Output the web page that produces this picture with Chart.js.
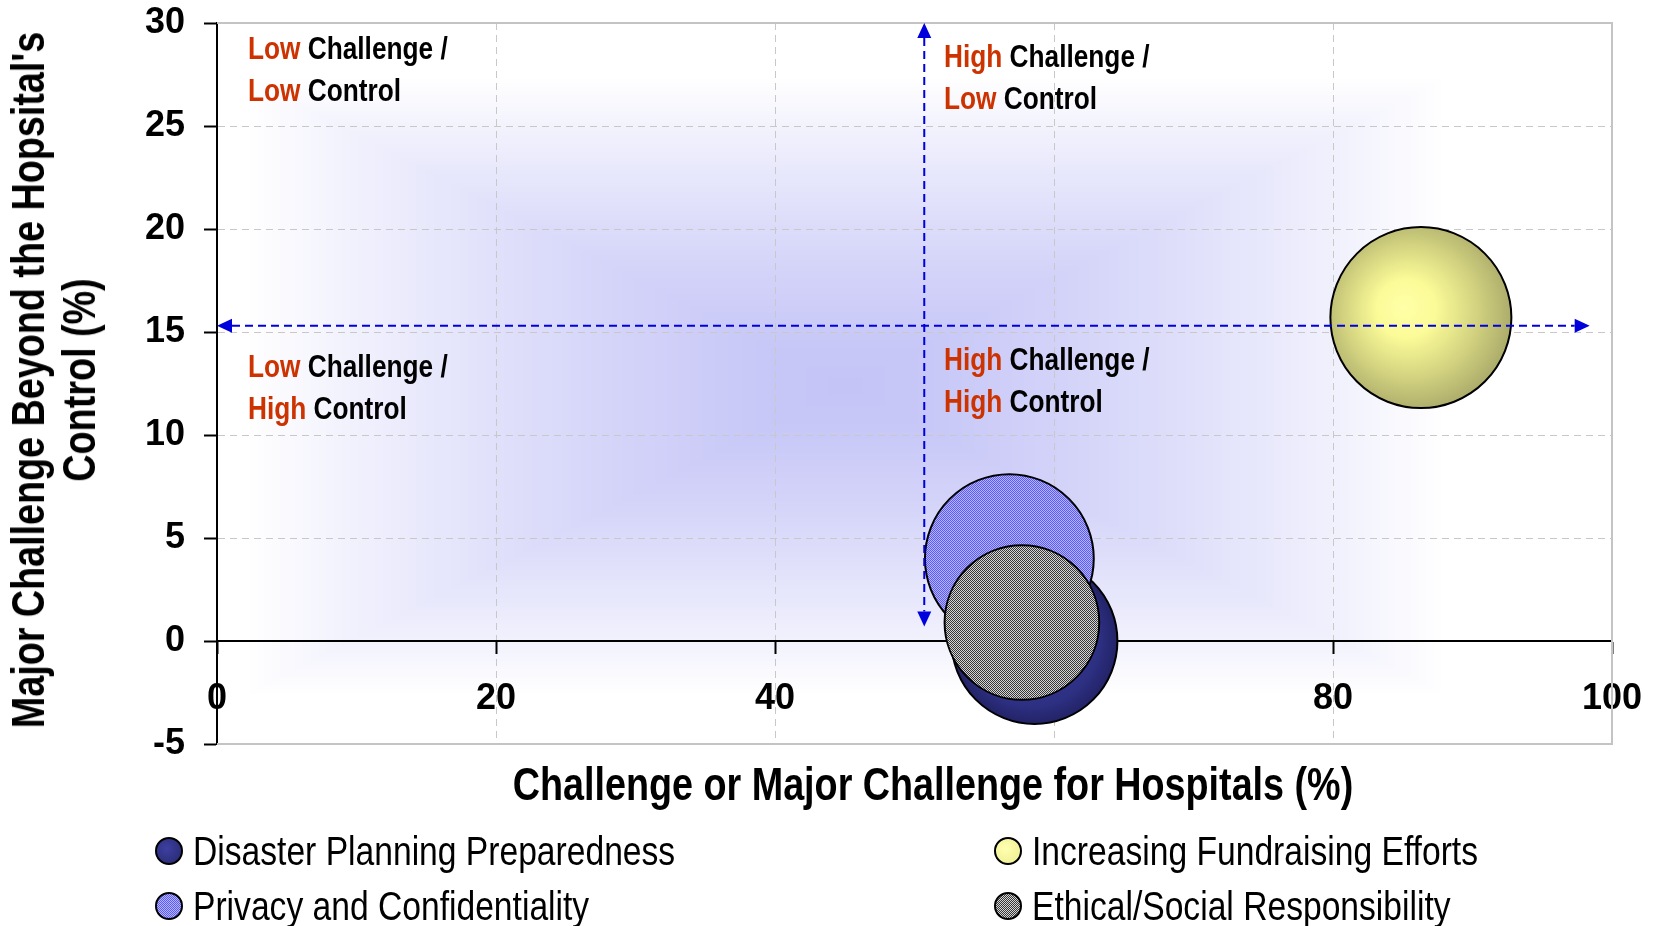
<!DOCTYPE html>
<html>
<head>
<meta charset="utf-8">
<script src="https://cdn.jsdelivr.net/npm/chart.js@4.4.0/dist/chart.umd.min.js"></script>
<style>
body { margin: 0; background: #fff; }
#wrap { position: relative; width: 1657px; height: 926px; overflow: hidden; }
#myChart { position: absolute; left: 0; top: 0; }
.narrow { font-family: "Liberation Sans", Arial, sans-serif; }
.abs { position: absolute; white-space: nowrap; }
.axis-title { font-weight: bold; font-size: 46px; color: #000; }
#xTitle { left: 933px; top: 784px; transform: translate(-50%, -50%) scaleX(0.82); }
#yTitle { left: 54px; top: 380px; transform: translate(-50%, -50%) rotate(-90deg) scaleX(0.82); text-align: center; line-height: 51px; }
.quad { font-weight: bold; font-size: 32px; line-height: 42px; color: #000; transform-origin: 0 0; transform: scaleX(0.82); }
.quad b { color: #cc3300; }
.leg { font-size: 41px; line-height: 46px; color: #000; transform-origin: 0 50%; transform: translateY(-50%) scaleX(0.82); }
.mk { position: absolute; width: 24px; height: 24px; border: 2px solid #000; border-radius: 50%; transform: translate(-50%, -50%); }
</style>
</head>
<body>
<div id="wrap">
  <canvas id="myChart" width="1657" height="926"></canvas>
  <div id="xTitle" class="abs narrow axis-title">Challenge or Major Challenge for Hospitals (%)</div>
  <div id="yTitle" class="abs narrow axis-title">Major Challenge Beyond the Hopsital's<br>Control (%)</div>
  <div class="abs narrow quad" style="left:248px;top:27px"><b>Low</b> Challenge /<br><b>Low</b> Control</div>
  <div class="abs narrow quad" style="left:944px;top:35px"><b>High</b> Challenge /<br><b>Low</b> Control</div>
  <div class="abs narrow quad" style="left:248px;top:345px"><b>Low</b> Challenge /<br><b>High</b> Control</div>
  <div class="abs narrow quad" style="left:944px;top:338px"><b>High</b> Challenge /<br><b>High</b> Control</div>
  <div id="legend"></div>
</div>
<script>
// dados do gráfico
var series = ['Disaster Planning Preparedness', 'Increasing Fundraising Efforts', 'Privacy and Confidentiality', 'Ethical/Social Responsibility']
var challengePct = [58.6, 86.3, 56.8, 57.7]
var beyondControlPct = [0.0, 15.7, 4.0, 0.9]
var bubbleSize = [84, 100, 87, 73]
var xTickValues = [0, 20, 40, 60, 80, 100]
var yTickValues = [-5, 0, 5, 10, 15, 20, 25, 30]
var xDivider = 50.7
var yDivider = 15.3

var canvas = document.getElementById('myChart')
var ctx = canvas.getContext('2d')

function makePattern(c1, c2) {
    var p = document.createElement('canvas')
    p.width = 2; p.height = 2
    var g = p.getContext('2d')
    g.fillStyle = c1; g.fillRect(0, 0, 2, 2)
    g.fillStyle = c2; g.fillRect(0, 0, 1, 1); g.fillRect(1, 1, 1, 1)
    return ctx.createPattern(p, 'repeat')
}
var bluePattern = makePattern('#b4b4ff', '#5c5cf4')
var grayPattern = makePattern('#d4d4d4', '#383838')

function bubbleR(i) { return 90.5 * Math.sqrt(bubbleSize[i] / 100) }

function bubbleFill(c) {
    var i = c.datasetIndex
    if (i === 2) return bluePattern
    if (i === 3) return grayPattern
    var chart = c.chart
    var xs = chart.scales.x, ys = chart.scales.y
    if (!xs || !ys || !chart.chartArea) return i === 1 ? '#ffff99' : '#333399'
    var cx = xs.getPixelForValue(challengePct[i])
    var cy = ys.getPixelForValue(beyondControlPct[i])
    var r = bubbleR(i)
    var g
    if (i === 1) {
        g = ctx.createRadialGradient(cx - r * 0.2, cy - r * 0.12, 0, cx - r * 0.08, cy - r * 0.05, r * 1.08)
        g.addColorStop(0, '#ffffa8')
        g.addColorStop(0.3, '#fbfb98')
        g.addColorStop(0.65, '#d6d682')
        g.addColorStop(1, '#adad6c')
    } else {
        g = ctx.createRadialGradient(cx - r * 0.15, cy - r * 0.15, 0, cx, cy, r)
        g.addColorStop(0, '#3a3c9a')
        g.addColorStop(0.8, '#2e3084')
        g.addColorStop(1, '#222366')
    }
    return g
}

var datasets = series.map(function (name, i) {
    return {
        label: name,
        data: [{ x: challengePct[i], y: beyondControlPct[i], r: bubbleR(i) }],
        backgroundColor: bubbleFill,
        borderColor: '#000',
        borderWidth: 2,
        order: 4 - i
    }
})

// fundo com degradê retangular a partir do centro
var bgCenter = [45, 12.4]
var bgHalf = [43, 15]
var bgInner = [196, 196, 247]

var plotDeco = {
    id: 'plotDeco',
    beforeDraw: function (chart) {
        var c = chart.ctx, a = chart.chartArea, x = chart.scales.x, y = chart.scales.y
        c.save()
        c.fillStyle = '#fff'
        c.fillRect(0, 0, chart.width, chart.height)
        var L = Math.round(a.left), T = Math.round(a.top)
        var w = Math.round(a.right) - L, h = Math.round(a.bottom) - T
        var img = c.createImageData(w, h)
        var cx = x.getPixelForValue(bgCenter[0]), cy = y.getPixelForValue(bgCenter[1])
        var hx = x.getPixelForValue(bgCenter[0] + bgHalf[0]) - cx
        var hy = cy - y.getPixelForValue(bgCenter[1] + bgHalf[1])
        for (var j = 0; j < h; j++) {
            for (var k = 0; k < w; k++) {
                var t = Math.max(Math.abs(L + k - cx) / hx, Math.abs(T + j - cy) / hy)
                if (t > 1) t = 1
                t = Math.pow(t, 1.35)
                var o = (j * w + k) * 4
                img.data[o] = bgInner[0] + (255 - bgInner[0]) * t
                img.data[o + 1] = bgInner[1] + (255 - bgInner[1]) * t
                img.data[o + 2] = bgInner[2] + (255 - bgInner[2]) * t
                img.data[o + 3] = 255
            }
        }
        c.putImageData(img, L, T)
        c.restore()
    },
    beforeDatasetsDraw: function (chart) {
        var c = chart.ctx, a = chart.chartArea
        c.save()
        c.strokeStyle = '#c4c4c4'
        c.lineWidth = 2
        c.beginPath()
        c.moveTo(a.left, a.top); c.lineTo(a.right, a.top); c.lineTo(a.right, a.bottom); c.lineTo(a.left, a.bottom)
        c.stroke()
        c.restore()
    },
    afterDatasetsDraw: function (chart) {
        var c = chart.ctx, x = chart.scales.x, y = chart.scales.y
        var vx = x.getPixelForValue(xDivider), hy = y.getPixelForValue(yDivider)
        arrow(c, x.getPixelForValue(0), hy, x.getPixelForValue(98.4), hy)
        arrow(c, vx, y.getPixelForValue(30), vx, y.getPixelForValue(0.7))
    }
}

function arrow(c, x1, y1, x2, y2) {
    var ang = Math.atan2(y2 - y1, x2 - x1), L = 15, W = 7
    c.save()
    c.strokeStyle = '#0000dd'
    c.fillStyle = '#0000dd'
    c.lineWidth = 2
    c.setLineDash([8, 5])
    c.beginPath()
    c.moveTo(x1 + Math.cos(ang) * L, y1 + Math.sin(ang) * L)
    c.lineTo(x2 - Math.cos(ang) * L, y2 - Math.sin(ang) * L)
    c.stroke()
    c.setLineDash([])
    ;[[x1, y1, ang + Math.PI], [x2, y2, ang]].forEach(function (h) {
        c.beginPath()
        c.moveTo(h[0], h[1])
        c.lineTo(h[0] - Math.cos(h[2]) * L - Math.sin(h[2]) * W, h[1] - Math.sin(h[2]) * L + Math.cos(h[2]) * W)
        c.lineTo(h[0] - Math.cos(h[2]) * L + Math.sin(h[2]) * W, h[1] - Math.sin(h[2]) * L - Math.cos(h[2]) * W)
        c.closePath()
        c.fill()
    })
    c.restore()
}

var tickFont = { family: '"Liberation Sans", Arial, sans-serif', size: 36, weight: 'bold' }

var myChart = new Chart(ctx, {
    type: 'bubble',
    data: { datasets: datasets },
    options: {
        responsive: false,
        animation: false,
        devicePixelRatio: 1,
        events: [],
        layout: { autoPadding: false, padding: { left: 0, top: 23, right: 45, bottom: 182 } },
        plugins: { legend: { display: false }, tooltip: { enabled: false } },
        scales: {
            x: {
                type: 'linear',
                position: { y: 0 },
                min: 0, max: 100,
                afterBuildTicks: function (s) { s.ticks = xTickValues.map(function (v) { return { value: v } }) },
                afterFit: function (s) { s.paddingLeft = 0; s.paddingRight = 0 },
                ticks: { font: tickFont, color: '#000', padding: 24, maxRotation: 0 },
                grid: {
                    color: function (c) { var v = c.tick && c.tick.value; return (v === 0 || v === 100) ? 'rgba(0,0,0,0)' : '#c8c8c8' },
                    lineWidth: 1, tickColor: '#000', tickLength: 12, tickWidth: 2
                },
                border: { color: '#000', width: 2, dash: [7, 5] }
            },
            y: {
                type: 'linear',
                position: 'left',
                min: -5, max: 30,
                afterBuildTicks: function (s) { s.ticks = yTickValues.map(function (v) { return { value: v } }) },
                afterFit: function (s) { s.width = 217; s.paddingTop = 0; s.paddingBottom = 0 },
                ticks: { font: tickFont, color: '#000', padding: 19 },
                grid: {
                    color: function (c) { var v = c.tick && c.tick.value; return (v === 0 || v === 30 || v === -5) ? 'rgba(0,0,0,0)' : '#c8c8c8' },
                    lineWidth: 1, tickColor: '#000', tickLength: 13, tickWidth: 2
                },
                border: { color: '#000', width: 2, dash: [7, 5] }
            }
        }
    },
    plugins: [plotDeco]
})

// legenda em duas colunas
var legendPos = [[169, 193, 851], [1008, 1032, 851], [169, 193, 906], [1008, 1032, 906]]
var markerBg = [
    'radial-gradient(circle at 40% 40%, #3d3fa0, #26286e)',
    'radial-gradient(circle at 40% 40%, #ffffb0, #eded90)',
    'repeating-conic-gradient(#5c5cf4 0 25%, #b4b4ff 0 50%) 0 0/2px 2px',
    'repeating-conic-gradient(#383838 0 25%, #d4d4d4 0 50%) 0 0/2px 2px'
]
var legend = document.getElementById('legend')
series.forEach(function (name, i) {
    var p = legendPos[i]
    var mk = document.createElement('div')
    mk.className = 'mk'
    mk.style.left = p[0] + 'px'
    mk.style.top = p[2] + 'px'
    mk.style.background = markerBg[i]
    legend.appendChild(mk)
    var t = document.createElement('div')
    t.className = 'abs narrow leg'
    t.style.left = p[1] + 'px'
    t.style.top = p[2] + 'px'
    t.textContent = name
    legend.appendChild(t)
})
</script>
</body>
</html>
